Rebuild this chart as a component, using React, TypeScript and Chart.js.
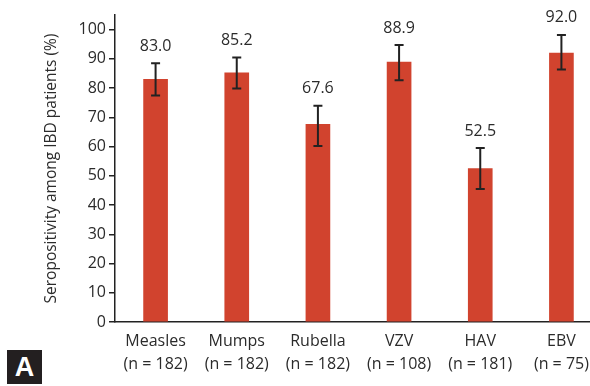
import React, { useEffect, useRef } from "react";
import { Chart, registerables } from "chart.js";

Chart.register(...registerables);

// Seropositivity by virus, with 95% CI bounds
const categories: string[][] = [
  ["Measles", "(n = 182)"],
  ["Mumps", "(n = 182)"],
  ["Rubella", "(n = 182)"],
  ["VZV", "(n = 108)"],
  ["HAV", "(n = 181)"],
  ["EBV", "(n = 75)"],
];
const seropositivity: number[] = [83.0, 85.2, 67.6, 88.9, 52.5, 92.0];
const ciLower: number[] = [77.5, 79.9, 60.2, 82.7, 45.5, 86.4];
const ciUpper: number[] = [88.5, 90.5, 74.0, 94.7, 59.5, 98.2];
const yTicks: number[] = [0, 10, 20, 30, 40, 50, 60, 70, 80, 90, 100];

const FONT = "'Open Sans', 'Noto Sans', sans-serif";
const INK = "#2b2b2b";
const BAR = "#d1432e";

const errorBarPlugin = {
  id: "errorBars",
  afterDatasetsDraw(chart: any) {
    const { ctx, scales } = chart;
    const meta = chart.getDatasetMeta(0);
    const y = scales.y;
    ctx.save();
    meta.data.forEach((bar: any, i: number) => {
      const x = bar.x;
      const yHi = y.getPixelForValue(ciUpper[i]);
      const yLo = y.getPixelForValue(ciLower[i]);
      ctx.strokeStyle = "#222";
      ctx.lineWidth = 2;
      ctx.beginPath();
      ctx.moveTo(x, yHi);
      ctx.lineTo(x, yLo);
      ctx.moveTo(x - 4.5, yHi);
      ctx.lineTo(x + 4.5, yHi);
      ctx.moveTo(x - 4.5, yLo);
      ctx.lineTo(x + 4.5, yLo);
      ctx.stroke();
      ctx.fillStyle = INK;
      ctx.font = `16px ${FONT}`;
      ctx.textAlign = "center";
      ctx.textBaseline = "middle";
      ctx.fillText(seropositivity[i].toFixed(1), x, yHi - 17);
    });
    ctx.restore();
  },
};

export default function App() {
  const ref = useRef<HTMLCanvasElement | null>(null);

  useEffect(() => {
    document.body.style.margin = "0";
    const canvas = ref.current;
    if (!canvas) return;
    const chart = new Chart(canvas, {
      type: "bar",
      data: {
        labels: categories,
        datasets: [
          {
            data: seropositivity,
            backgroundColor: BAR,
            borderWidth: 0,
            barThickness: 24,
          },
        ],
      },
      options: {
        responsive: false,
        animation: false,
        layout: { padding: { top: 15, left: 0, right: 0, bottom: 0 } },
        plugins: {
          legend: { display: false },
          tooltip: { enabled: false },
        },
        scales: {
          x: {
            offset: true,
            grid: { display: true, drawOnChartArea: false, drawTicks: false },
            border: { display: true, color: "#222", width: 1.5 },
            ticks: {
              color: INK,
              font: { family: FONT, size: 16, lineHeight: 1.45 },
              padding: 8,
              maxRotation: 0,
              autoSkip: false,
            },
            afterFit(scale: any) {
              scale.height = 64;
            },
          },
          y: {
            min: 0,
            max: 105,
            afterBuildTicks(scale: any) {
              scale.ticks = yTicks.map((v) => ({ value: v }));
            },
            grid: {
              display: true,
              drawOnChartArea: false,
              drawTicks: true,
              tickLength: 6,
              color: "#222",
              lineWidth: 1.5,
            },
            border: { display: true, color: "#222", width: 1.5 },
            ticks: {
              color: INK,
              font: { family: FONT, size: 16 },
              padding: 3,
            },
            title: {
              display: true,
              text: "Seropositivity among IBD patients (%)",
              color: INK,
              font: { family: FONT, size: 15.5 },
              padding: { top: 42, bottom: 0 },
            },
            afterFit(scale: any) {
              scale.width = 115;
            },
          },
        },
      },
      plugins: [errorBarPlugin],
    });
    return () => chart.destroy();
  }, []);

  return (
    <div
      style={{
        position: "relative",
        width: 590,
        height: 386,
        overflow: "hidden",
        background: "#fff",
      }}
    >
      <canvas ref={ref} width={602} height={386} style={{ display: "block" }} />
      <div
        style={{
          position: "absolute",
          left: 7,
          top: 350,
          width: 35,
          height: 34,
          background: "#231f20",
          color: "#fff",
          fontFamily: "'Liberation Sans', Arial, sans-serif",
          fontWeight: 700,
          fontSize: 27,
          lineHeight: "34px",
          textAlign: "center",
        }}
      >
        A
      </div>
    </div>
  );
}
